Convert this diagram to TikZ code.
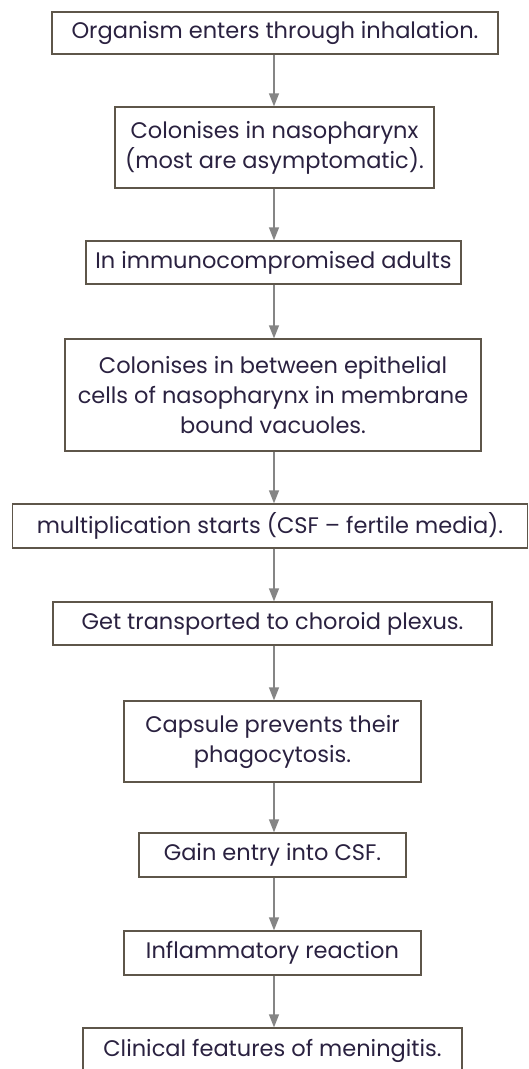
\documentclass[tikz,border=0pt]{standalone}
\usepackage{fontspec}
\setmainfont{Poppins}
\usetikzlibrary{arrows.meta}
\definecolor{boxline}{HTML}{5E564A}
\definecolor{txt}{HTML}{2A2140}
\definecolor{arrowc}{HTML}{858585}
\tikzset{
  stepbox/.style={draw=boxline, line width=1.3pt, text=txt, align=center, inner sep=0pt,
    font=\fontsize{22.5}{30}\selectfont},
  flow/.style={draw=arrowc, line width=1.4pt, -{Triangle[width=10pt,length=13pt]}, arrowc},
}
\begin{document}
\begin{tikzpicture}[x=1pt,y=-1pt]
\useasboundingbox (0,0) rectangle (529,1069);
\node[stepbox, minimum width=446pt, minimum height=42pt] (n1) at (275,33) {Organism enters through inhalation.};
\node[stepbox, minimum width=319pt, minimum height=81pt] (n2) at (274.5,147.5) {Colonises in nasopharynx\\(most are asymptomatic).};
\node[stepbox, minimum width=375pt, minimum height=43pt] (n3) at (273.5,262.5) {In immunocompromised adults};
\node[stepbox, minimum width=416pt, minimum height=112pt] (n4) at (273,395) {Colonises in between epithelial\\cells of nasopharynx in membrane\\bound vacuoles.};
\node[stepbox, minimum width=515pt, minimum height=44pt] (n5) at (270,526) {multiplication starts (CSF -- fertile media).};
\node[stepbox, minimum width=439pt, minimum height=43pt] (n6) at (272.5,623.5) {Get transported to choroid plexus.};
\node[stepbox, minimum width=297pt, minimum height=81pt] (n7) at (272.5,741.5) {Capsule prevents their\\phagocytosis.};
\node[stepbox, minimum width=267pt, minimum height=44pt] (n8) at (272.5,855) {Gain entry into CSF.};
\node[stepbox, minimum width=297pt, minimum height=44pt] (n9) at (272.5,953) {Inflammatory reaction};
\node[stepbox, minimum width=379pt, minimum height=46pt] (n10) at (272.5,1051) {Clinical features of meningitis.};
\coordinate (ax) at (274,0);
\foreach \a/\b in {n1/n2,n2/n3,n3/n4,n4/n5,n5/n6,n6/n7,n7/n8,n8/n9,n9/n10}{
  \draw[flow] (\a.south -| ax) -- (\b.north -| ax);
}
\end{tikzpicture}
\end{document}
